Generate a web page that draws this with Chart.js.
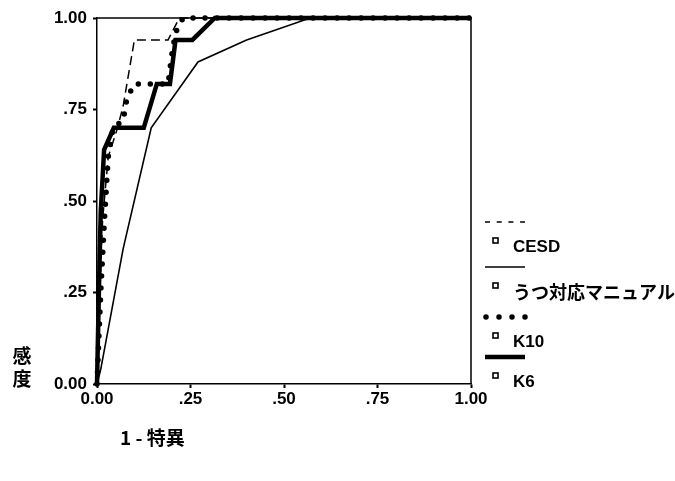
<!DOCTYPE html>
<html>
<head>
<meta charset="utf-8">
<script src="https://cdn.jsdelivr.net/npm/chart.js@4.4.1/dist/chart.umd.min.js"></script>
<style>
  html, body { margin: 0; padding: 0; background: #fff; }
  #wrap { width: 675px; height: 481px; }
</style>
</head>
<body>
<div id="wrap"><canvas id="roc" width="675" height="481"></canvas></div>
<script>
// ROC curves: 1 - specificity (x) against sensitivity (y)
const seriesNames = ['CESD', 'うつ対応マニュアル', 'K10', 'K6'];

const cesdX = [0, 0.005, 0.015, 0.03, 0.055, 0.07, 0.085, 0.10, 0.19, 0.22, 1];
const cesdY = [0, 0.18, 0.45, 0.62, 0.70, 0.76, 0.85, 0.94, 0.94, 1, 1];

const manualX = [0, 0.01, 0.07, 0.145, 0.27, 0.40, 0.57, 1];
const manualY = [0, 0.04, 0.37, 0.70, 0.88, 0.94, 1, 1];

const k10X = [0, 0.01, 0.02, 0.03, 0.043, 0.07, 0.08, 0.10, 0.19, 0.20, 0.21, 0.23, 1];
const k10Y = [0, 0.25, 0.45, 0.62, 0.70, 0.72, 0.78, 0.82, 0.82, 0.90, 0.96, 1, 1];

const k6X = [0, 0.005, 0.01, 0.019, 0.045, 0.125, 0.16, 0.195, 0.21, 0.255, 0.315, 1];
const k6Y = [0, 0.25, 0.47, 0.64, 0.70, 0.70, 0.82, 0.82, 0.94, 0.94, 1, 1];

const tickValues = [0, 0.25, 0.5, 0.75, 1];
const tickLabels = ['0.00', '.25', '.50', '.75', '1.00'];

const xTitle = '1 - 特異';
const yTitle = '感度';

const toPoints = (xs, ys) => xs.map((x, i) => ({ x: x, y: ys[i] }));

// line styles per series: dashed, thin, round dots, heavy
const styles = [
  { width: 1.5, dash: [9, 5], keyDash: [5, 6.7], cap: 'butt' },
  { width: 1.6, dash: [], keyDash: [], cap: 'butt' },
  { width: 5.5, dash: [0, 12], keyDash: [0, 13], cap: 'round' },
  { width: 4.5, dash: [], keyDash: [], cap: 'butt' }
];
const seriesData = [
  toPoints(cesdX, cesdY),
  toPoints(manualX, manualY),
  toPoints(k10X, k10Y),
  toPoints(k6X, k6Y)
];

const tickFont = { family: '"Liberation Sans", Arial, sans-serif', size: 17, weight: 'bold' };
const hasCJK = (s) => /[\u3040-\u30ff\u4e00-\u9fff]/.test(s);

const frameAndLegend = {
  id: 'frameAndLegend',
  afterDatasetsDraw(chart) {
    const { ctx, chartArea: a } = chart;
    ctx.save();
    // top and right frame lines
    ctx.strokeStyle = '#000';
    ctx.lineWidth = 1.5;
    ctx.beginPath();
    ctx.moveTo(a.left, a.top);
    ctx.lineTo(a.right, a.top);
    ctx.lineTo(a.right, a.bottom);
    ctx.stroke();

    // legend: line sample, then marker and name
    const rowTop = [222, 267, 317, 357];
    ctx.textBaseline = 'middle';
    ctx.fillStyle = '#000';
    seriesNames.forEach((name, i) => {
      const s = styles[i];
      const y = rowTop[i];
      ctx.lineWidth = s.width;
      ctx.setLineDash(s.keyDash);
      ctx.lineCap = s.cap;
      ctx.beginPath();
      ctx.moveTo(s.cap === 'round' ? 486 : 485, y);
      ctx.lineTo(s.cap === 'round' ? 528 : 525, y);
      ctx.stroke();
      ctx.setLineDash([]);
      ctx.lineCap = 'butt';
      ctx.lineWidth = 1.6;
      ctx.strokeRect(493, y + 16, 5, 5);
      ctx.font = hasCJK(name)
        ? 'bold 18px "Noto Sans CJK JP", sans-serif'
        : 'bold 17px "Liberation Sans", Arial, sans-serif';
      ctx.fillText(name, 513, y + 25);
    });

    // axis titles
    ctx.font = 'bold 19px "Noto Sans CJK JP", "Liberation Sans", sans-serif';
    ctx.textAlign = 'center';
    [...yTitle].forEach((ch, i) => ctx.fillText(ch, 22, 356 + i * 23));
    ctx.textAlign = 'left';
    ctx.fillText(xTitle, 120, 438);
    ctx.restore();
  }
};

new Chart(document.getElementById('roc'), {
  type: 'line',
  data: {
    datasets: seriesNames.map((name, i) => ({
      label: name,
      data: seriesData[i],
      borderColor: '#000',
      backgroundColor: '#000',
      borderWidth: styles[i].width,
      borderDash: styles[i].dash,
      borderCapStyle: styles[i].cap,
      borderJoinStyle: 'miter',
      pointRadius: 0,
      tension: 0,
      fill: false,
      clip: 8
    }))
  },
  options: {
    responsive: false,
    animation: false,
    layout: { padding: { left: 0, top: 18, right: 204, bottom: 0 } },
    plugins: { legend: { display: false }, tooltip: { enabled: false } },
    scales: {
      x: {
        type: 'linear',
        min: 0, max: 1,
        afterBuildTicks(scale) { scale.ticks = tickValues.map(v => ({ value: v })); },
        afterFit(scale) { scale.height = 97; },
        ticks: {
          color: '#000',
          font: tickFont,
          padding: 1,
          maxRotation: 0,
          autoSkip: false,
          callback: (v) => tickLabels[tickValues.indexOf(v)]
        },
        grid: { drawOnChartArea: false, drawTicks: true, tickLength: 4, tickWidth: 2, tickColor: '#000' },
        border: { display: true, color: '#000', width: 1.5 }
      },
      y: {
        type: 'linear',
        min: 0, max: 1,
        afterBuildTicks(scale) { scale.ticks = tickValues.map(v => ({ value: v })); },
        afterFit(scale) { scale.width = 97; },
        ticks: {
          color: '#000',
          font: tickFont,
          padding: 6,
          autoSkip: false,
          callback: (v) => tickLabels[tickValues.indexOf(v)]
        },
        grid: { drawOnChartArea: false, drawTicks: true, tickLength: 4, tickWidth: 2, tickColor: '#000' },
        border: { display: true, color: '#000', width: 1.5 }
      }
    }
  },
  plugins: [frameAndLegend]
});
</script>
</body>
</html>
